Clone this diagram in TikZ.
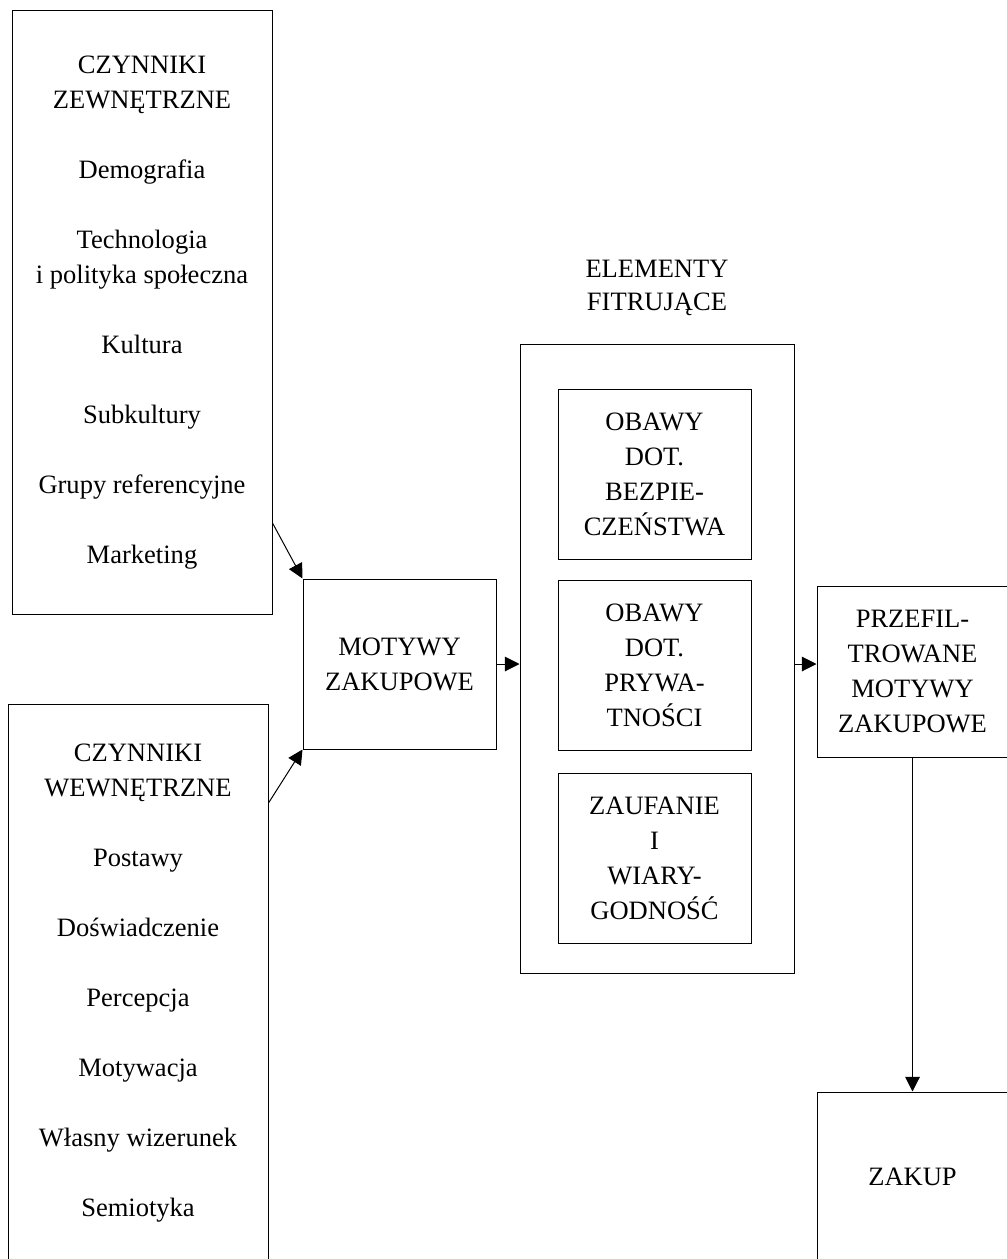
\documentclass[tikz,border=0pt]{standalone}
\usepackage{fontspec}
\setmainfont{Liberation Serif}
\usetikzlibrary{arrows.meta}
\newcommand\txtfont{\fontsize{19.9pt}{26.25pt}\selectfont}
\newcommand\lblfont{\fontsize{19.9pt}{24.5pt}\selectfont}
\begin{document}
\begin{tikzpicture}[x=0.75pt, y=-0.75pt,
  box/.style={draw, line width=0.75pt, align=center, inner sep=0pt, font=\txtfont},
  lbl/.style={align=center, inner sep=0pt, font=\lblfont},
  conn/.style={line width=0.75pt, -{Triangle[length=11pt, width=11pt]}}]
\useasboundingbox (0,0) rectangle (1006,1259);

% factor boxes on the left
\node[box, minimum width=195pt, minimum height=452.25pt] (ext) at (142,312.5)
  {CZYNNIKI\\ZEWNĘTRZNE\\[26.25pt]Demografia\\[26.25pt]Technologia\\i polityka społeczna\\[26.25pt]Kultura\\[26.25pt]Subkultury\\[26.25pt]Grupy referencyjne\\[26.25pt]Marketing};
\node[box, minimum width=195pt, minimum height=418.5pt] (int) at (138,983)
  {CZYNNIKI\\WEWNĘTRZNE\\[26.25pt]Postawy\\[26.25pt]Doświadczenie\\[26.25pt]Percepcja\\[26.25pt]Motywacja\\[26.25pt]Własny wizerunek\\[26.25pt]Semiotyka};

% purchase motives
\node[box, minimum width=144.75pt, minimum height=127.5pt] (motywy) at (399.5,664)
  {MOTYWY\\ZAKUPOWE};

% filtering elements
\node[lbl] (flabel) at (657,288) {ELEMENTY\\FITRUJĄCE};
\node[box, minimum width=205.5pt, minimum height=471.75pt] (filt) at (657,658.5) {};
\node[box, minimum width=144.75pt, minimum height=127.5pt] (f1) at (654.5,474)
  {OBAWY\\DOT.\\BEZPIE-\\CZEŃSTWA};
\node[box, minimum width=144.75pt, minimum height=127.5pt] (f2) at (654.5,665)
  {OBAWY\\DOT.\\PRYWA-\\TNOŚCI};
\node[box, minimum width=144.75pt, minimum height=127.5pt] (f3) at (654.5,858)
  {ZAUFANIE\\I\\WIARY-\\GODNOŚĆ};

% filtered motives and purchase
\node[box, minimum width=143.25pt, minimum height=128.25pt] (przef) at (912.5,671.5)
  {PRZEFIL-\\TROWANE\\MOTYWY\\ZAKUPOWE};
\node[box, minimum width=143.25pt, minimum height=127.5pt] (zakup) at (912.5,1177)
  {ZAKUP};

% connectors
\coordinate (e1) at (ext.east |- 0,523);
\draw[conn] (e1) -- (motywy.north west);
\coordinate (i1) at (int.east |- 0,803);
\draw[conn] (i1) -- (motywy.south west);
\draw[conn] (motywy.east) -- (motywy.east -| filt.west);
\coordinate (r1) at (filt.east |- motywy.east);
\draw[conn] (r1) -- (r1 -| przef.west);
\draw[conn] (przef.south) -- (zakup.north);
\end{tikzpicture}
\end{document}
